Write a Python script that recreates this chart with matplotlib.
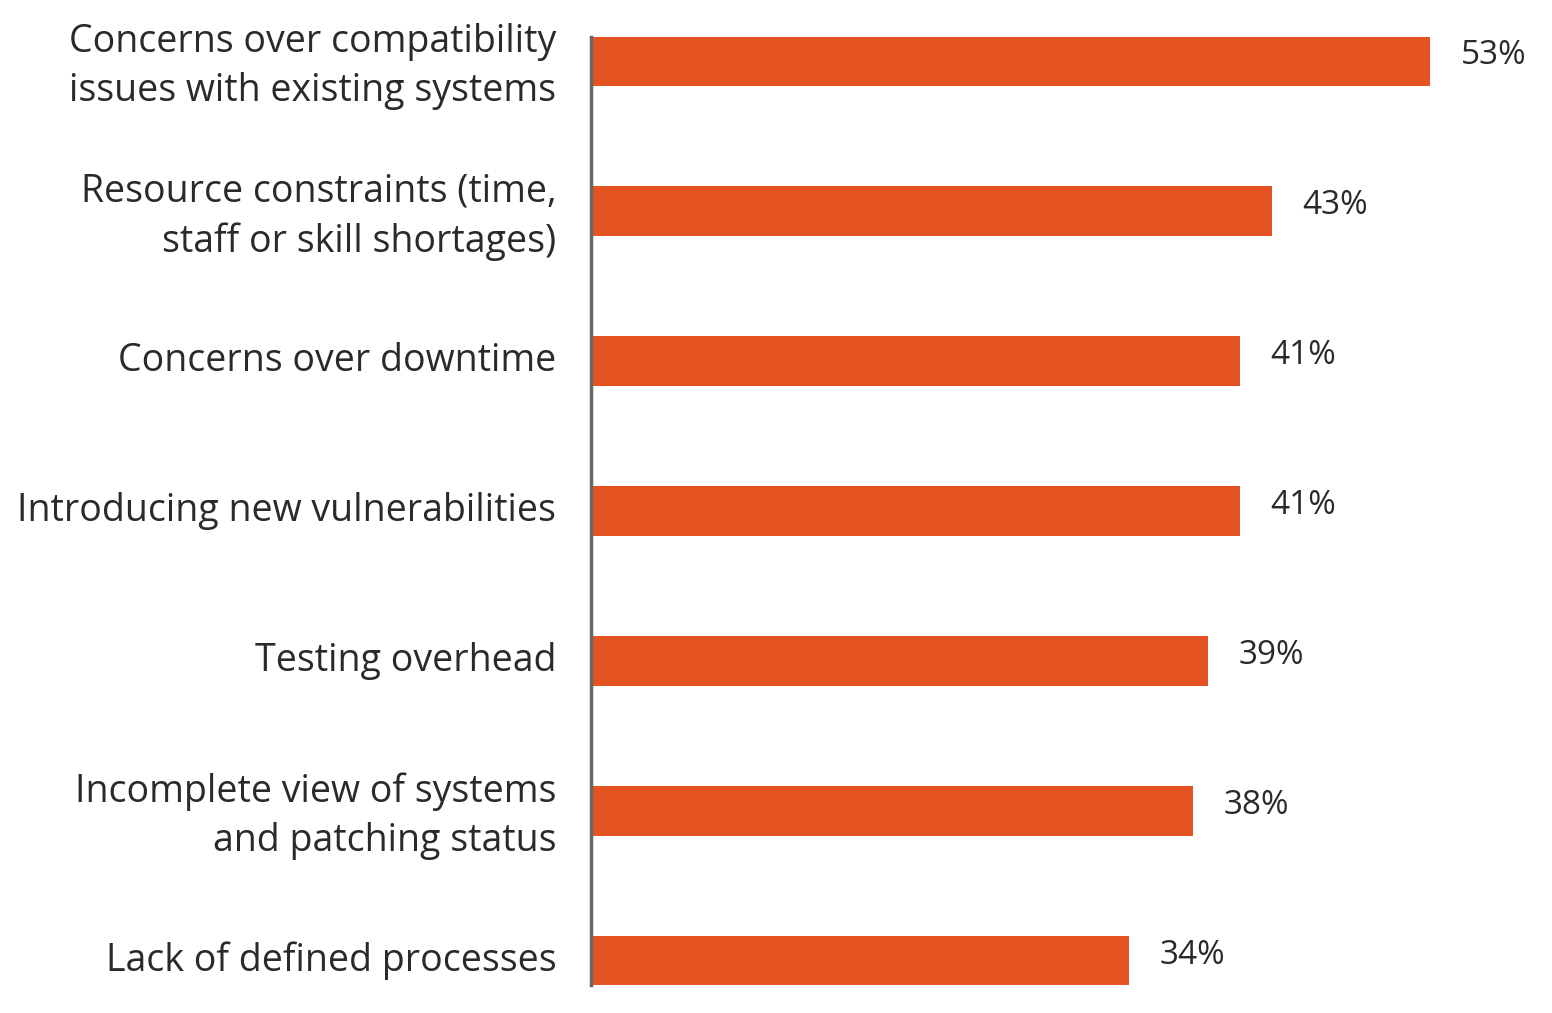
import matplotlib.pyplot as plt
from matplotlib.transforms import ScaledTranslation

categories = [
    "Concerns over compatibility\nissues with existing systems",
    "Resource constraints (time,\nstaff or skill shortages)",
    "Concerns over downtime",
    "Introducing new vulnerabilities",
    "Testing overhead",
    "Incomplete view of systems\nand patching status",
    "Lack of defined processes",
]
values = [53, 43, 41, 41, 39, 38, 34]
labels = ["53%", "43%", "41%", "41%", "39%", "38%", "34%"]

plt.rcParams['font.family'] = ['Open Sans', 'DejaVu Sans']

W, H = 1552, 1013
fig = plt.figure(figsize=(W / 100, H / 100), dpi=100)
ax = fig.add_axes([591 / W, 28 / H, 961 / W, 948 / H])

pos = list(range(len(values)))
ax.barh(pos, values, height=0.333, color='#E55322', left=0)
ax.set_xlim(0, 961 / 15.83)
ax.set_ylim(6 + 24 / 150, -24 / 150)

for p, v, t in zip(pos, values, labels):
    ax.annotate(t, (v, p), xytext=(22, 4), textcoords='offset points',
                va='center', ha='left', fontsize=24, color='#2a2a2a')

ax.set_yticks(pos)
ax.set_yticklabels(categories, fontsize=27, color='#2a2a2a', linespacing=1.4)
ax.tick_params(axis='y', length=0, pad=25)
# nudge the category labels up a little, like the original
for lbl in ax.get_yticklabels():
    lbl.set_transform(lbl.get_transform() + ScaledTranslation(0, 0.05, fig.dpi_scale_trans))
ax.set_xticks([])
for s in ['top', 'right', 'bottom']:
    ax.spines[s].set_visible(False)
ax.spines['left'].set_color('#666666')
ax.spines['left'].set_linewidth(2.5)

fig.savefig('out.png', dpi=100)
